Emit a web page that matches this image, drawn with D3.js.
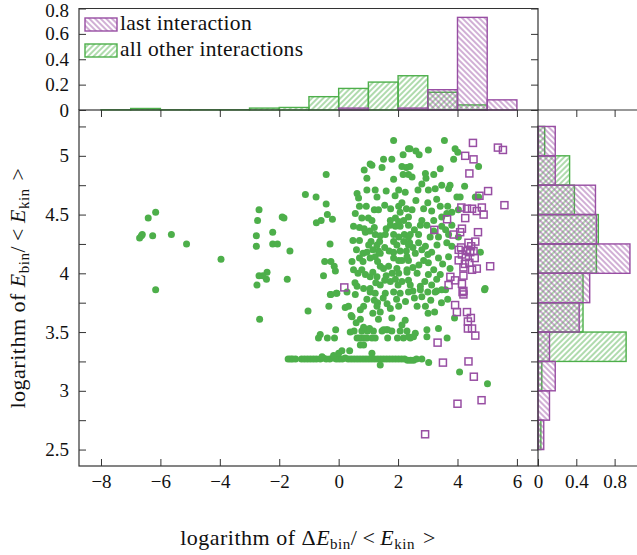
<!DOCTYPE html>
<html>
<head>
<meta charset="utf-8">
<script src="https://cdn.jsdelivr.net/npm/d3@7"></script>
<style>
  body { margin: 0; background: #fff; }
  svg text { font-family: "Liberation Serif", "Times New Roman", Tinos, "DejaVu Serif", serif; }
</style>
</head>
<body>
<svg id="chart" width="637" height="555"></svg>
<script>
// -------- data --------
// top histogram: bins of width 1 on log(dE_bin/<E_kin>)
const topBinStart = [-8, -7, -6, -5, -4, -3, -2, -1, 0, 1, 2, 3, 4, 5];
const topLast = [0, 0, 0, 0, 0, 0, 0, 0, 0.015, 0, 0.015, 0.16, 0.73, 0.08];
const topOther = [0.002, 0.012, 0.002, 0.002, 0.002, 0.015, 0.02, 0.105, 0.17, 0.22, 0.27, 0.14, 0.04, 0];

// right histogram: bins of width 0.25 on log(E_bin/<E_kin>)
const rightBinStart = [2.5, 2.75, 3, 3.25, 3.5, 3.75, 4, 4.25, 4.5, 4.75, 5];
const rightLast = [0.06, 0.12, 0.18, 0.12, 0.43, 0.54, 0.96, 0.61, 0.6, 0.18, 0.18];
const rightOther = [0.03, 0, 0.04, 0.92, 0.47, 0.47, 0.61, 0.63, 0.38, 0.33, 0.07];

// ticks
const xTicks = [-8, -6, -4, -2, 0, 2, 4, 6];
const yTicks = [2.5, 2.75, 3, 3.25, 3.5, 3.75, 4, 4.25, 4.5, 4.75, 5, 5.25];
const topTicks = [0, 0.2, 0.4, 0.6, 0.8];
const rightTicks = [0, 0.4, 0.8];

// scatter, "all other interactions" [x, y]
const otherFar = [[-6.16,4.52],[-6.41,4.47],[-6.61,4.33],[-6.64,4.32],[-6.70,4.30],[-6.26,4.32],[-5.63,4.33],
  [-5.12,4.25],[-3.96,4.12],[-6.16,3.86]];
const otherLeft = [[-2.68,4.54],[-2.73,4.45],[-1.90,4.48],[-1.84,4.47],[-2.22,4.35],[-2.77,4.32],[-2.77,4.23],
  [-2.22,4.25],[-2.06,4.25],[-1.64,4.19],[-2.68,3.98],[-2.41,4.01],[-2.43,3.95],[-2.55,3.98],[-2.75,3.90],
  [-1.73,3.95],[-2.66,3.61],[-1.03,3.68],[-1.12,4.67],[-0.76,4.65]];
const otherZero = [[-0.42,4.84],[-0.42,4.59],[-0.38,4.50],[-0.21,4.46],[-0.75,4.43],[-0.59,4.45],[-0.29,4.25],
  [-0.47,4.10],[-0.26,4.10],[-0.15,4.06],[-0.11,4.02],[-0.51,3.98],[-0.26,3.82],[-0.06,3.83],[-0.33,3.72],
  [-0.10,3.52],[-0.62,3.48],[-0.68,3.45],[-0.38,3.45],[-0.14,3.45]];
const otherRow = [[-1.70,3.27],[-1.62,3.27],[-1.55,3.27],[-1.45,3.27],[-1.25,3.27],[-1.15,3.27],[-1.05,3.27],
  [-0.95,3.27],[-0.85,3.27],[-0.75,3.27],[-0.62,3.27],[-0.52,3.28],[-0.42,3.27],[-0.30,3.27],[-0.18,3.28],
  [-0.08,3.27],[0.02,3.27],[0.12,3.27],[0.22,3.28],[0.32,3.27],[0.42,3.27],[0.52,3.27],[0.62,3.27],[0.72,3.27],
  [0.82,3.27],[0.92,3.27],[1.02,3.27],[1.12,3.27],[1.22,3.27],[1.32,3.27],[1.42,3.27],[1.52,3.27],[1.62,3.27],
  [1.72,3.27],[1.82,3.27],[1.92,3.27],[2.02,3.27],[2.12,3.27],[2.22,3.27],[2.32,3.26],[2.42,3.26],[2.52,3.26],
  [2.62,3.27],[2.80,3.27],[3.03,3.24],[0.11,3.34],[0.00,3.32],[-0.17,3.30],[-0.56,3.29],[0.37,3.34],
  [1.12,3.32],[1.40,3.22],[0.73,3.39],[0.84,3.39],[4.07,3.16],[5.01,3.06]];
const otherLow = [[0.62,3.45],[0.70,3.45],[0.78,3.45],[0.87,3.45],[0.95,3.45],[1.12,3.45],[1.23,3.45],
  [1.65,3.45],[1.98,3.45],[2.18,3.45],[2.41,3.45],[2.35,3.46],[2.52,3.46],[2.97,3.46],[0.39,3.50],[0.52,3.51],
  [0.78,3.51],[0.97,3.51],[1.17,3.51],[1.46,3.51],[1.60,3.52],[1.79,3.51],[2.07,3.51],[2.30,3.51],[0.84,3.54],
  [1.04,3.53],[1.51,3.52],[1.65,3.52],[2.58,3.49],[2.97,3.52],[3.36,3.53],[3.65,3.45],[0.45,3.63],[0.22,3.71],
  [0.33,3.72],[0.42,3.64],[0.73,3.69],[0.84,3.72],[1.15,3.66],[1.31,3.75],[1.29,3.72],[1.40,3.67],[1.63,3.74],
  [1.74,3.70],[2.02,3.72],[1.34,3.61],[1.79,3.62],[0.73,3.61],[0.59,3.58],[2.13,3.56],[2.24,3.60],[3.46,3.75],
  [3.67,3.78],[3.23,3.67],[3.01,3.66],[2.64,3.72],[2.92,3.72],[3.90,3.62]];
const otherMid = [[-0.28,3.82],[-0.08,3.83],[0.28,3.84],[0.56,3.82],[1.06,3.84],[1.23,3.83],[1.57,3.83],
  [1.85,3.84],[2.07,3.83],[2.35,3.84],[4.91,3.86],[2.50,3.85],[2.75,3.86],[3.00,3.84],[3.30,3.85],[3.60,3.86],
  [0.62,3.89],[0.84,3.87],[1.06,3.87],[1.40,3.90],[1.74,3.93],[1.91,3.95],[2.13,3.93],[2.35,3.94],[2.41,3.90],
  [2.75,3.89],[3.13,3.90],[3.47,3.86],[3.25,3.84],[4.93,3.87],[0.90,3.99],[1.06,3.97],[1.29,3.97],[2.30,4.01],
  [2.64,4.00],[3.02,3.99],[3.42,3.99],[0.45,4.10],[0.50,4.03],[0.82,4.10],[0.78,4.03],[1.40,4.06],[1.51,4.04],
  [1.68,4.06],[1.96,4.04],[2.02,4.00],[2.30,4.03],[3.75,4.04],[2.35,4.11],[2.86,4.11],[3.02,4.09],[0.82,4.17],
  [0.70,4.13],[1.06,4.13],[1.23,4.14],[1.31,4.10],[1.85,4.13],[2.02,4.11],[2.13,4.11],[2.30,4.14]];
const otherHigh = [[1.34,4.19],[1.40,4.17],[1.85,4.18],[2.07,4.19],[2.28,4.19],[2.58,4.17],[3.13,4.18],
  [3.36,4.13],[3.70,4.14],[4.77,4.18],[0.48,4.28],[0.70,4.28],[1.09,4.27],[1.38,4.27],[1.29,4.24],[1.85,4.27],
  [1.96,4.24],[2.19,4.27],[2.39,4.26],[1.01,4.24],[2.35,4.24],[2.69,4.26],[2.92,4.23],[3.31,4.24],[3.64,4.26],
  [3.81,4.23],[0.90,4.35],[1.23,4.33],[1.40,4.32],[1.57,4.33],[1.85,4.33],[2.02,4.31],[2.21,4.33],[2.35,4.31],
  [2.41,4.33],[2.69,4.33],[3.08,4.31],[3.36,4.31],[3.70,4.33],[4.03,4.31],[0.70,4.39],[0.86,4.38],[1.20,4.39],
  [1.74,4.41],[1.91,4.40],[2.07,4.40],[2.35,4.41],[2.75,4.41],[2.97,4.41],[3.47,4.40],[3.81,4.41],[0.56,4.51],
  [0.78,4.47],[1.00,4.47],[1.12,4.45],[1.74,4.45],[1.91,4.47],[2.02,4.44],[2.19,4.45],[2.35,4.48],[0.93,4.57],
  [1.20,4.54],[1.34,4.54],[2.02,4.57],[2.07,4.52],[2.13,4.60],[2.80,4.45],[3.20,4.45],[3.47,4.48],[3.64,4.51],
  [3.81,4.52],[4.03,4.54],[2.28,4.55],[2.47,4.54],[2.86,4.55],[3.13,4.53],[3.42,4.57],[3.67,4.57]];
const otherTop = [[0.95,4.71],[1.23,4.71],[2.02,4.71],[2.24,4.69],[0.62,4.68],[0.67,4.64],[1.29,4.65],
  [3.98,4.65],[4.09,4.65],[4.60,4.65],[4.71,4.65],[2.67,4.71],[3.02,4.71],[3.47,4.75],[3.75,4.75],[3.70,4.72],
  [4.24,4.74],[1.85,4.80],[0.95,4.81],[2.47,4.82],[2.94,4.81],[1.06,4.93],[1.12,4.92],[0.86,4.88],[1.46,4.90],
  [2.13,4.91],[2.28,4.90],[2.35,4.84],[2.17,4.84],[1.79,4.97],[1.51,4.97],[2.17,5.01],[2.35,5.06],[1.85,5.13],
  [3.56,5.13],[2.40,5.06],[2.60,5.04],[2.71,5.01],[3.02,5.05],[3.92,5.06],[4.01,5.03],[3.87,4.97],[4.71,4.91],
  [2.40,4.91],[3.42,4.89],[3.20,4.84],[2.92,4.85]];
// overlapping points inside the dense core
const otherCore = [[0.60,4.20],[0.95,4.18],[1.15,4.20],[1.55,4.22],[1.70,4.19],[2.50,4.22],[2.80,4.20],
  [3.00,4.16],[0.65,4.00],[1.15,4.01],[1.60,3.98],[1.80,4.00],[2.50,4.05],[2.70,4.07],[3.20,4.03],[3.50,4.08],
  [0.55,3.92],[1.25,3.92],[1.55,3.94],[2.00,3.90],[2.90,3.93],[3.30,3.95],[0.95,3.78],[1.20,3.77],[1.50,3.79],
  [1.95,3.78],[2.25,3.76],[2.55,3.79],[2.80,3.80],[3.10,3.77],[0.50,4.40],[1.05,4.36],[1.60,4.38],[2.55,4.37],
  [3.20,4.36],[3.60,4.37],[0.70,4.57],[1.55,4.58],[1.75,4.55],[2.60,4.62],[3.00,4.60],[3.30,4.63],[1.60,4.70],
  [1.90,4.66],[2.80,4.76],[3.25,4.72]];

// scatter, "last interaction" [x, y]
const lastPts = [[4.52,5.11],[5.36,5.07],[5.53,5.05],[4.26,5.00],[4.54,4.97],[5.03,4.70],[4.74,4.66],[5.58,4.58],
  [4.13,4.56],[4.32,4.55],[4.49,4.55],[4.82,4.56],[4.65,4.53],[4.88,4.50],[4.26,4.47],[3.65,4.46],[3.22,4.37],
  [4.15,4.38],[4.09,4.35],[3.87,4.33],[4.69,4.35],[4.60,4.27],[4.37,4.26],[4.04,4.20],[4.32,4.19],[4.54,4.19],
  [4.43,4.18],[4.04,4.11],[4.20,4.05],[4.49,4.03],[4.65,4.04],[5.10,4.06],[4.20,3.98],[3.76,3.97],[3.92,3.94],
  [3.70,3.90],[4.15,3.91],[4.20,3.85],[4.17,3.84],[4.20,3.82],[3.92,3.73],[3.98,3.67],[4.32,3.67],[4.35,3.59],
  [4.35,3.53],[4.49,3.53],[4.60,3.47],[3.33,3.41],[3.51,3.24],[4.37,3.25],[4.00,2.89],[4.81,2.92],[2.91,2.63],
  [0.19,3.88],[4.12,4.22],[4.28,4.14],[4.40,4.09],[4.58,4.13],[4.15,4.16],[4.46,4.23],[4.25,4.08],[4.40,4.85],
  [4.45,3.62],[4.55,3.12]];

const otherPts = [].concat(otherFar, otherLeft, otherZero, otherRow, otherLow, otherMid, otherCore, otherHigh, otherTop);

// -------- setup --------
const svg = d3.select("#chart");
const green = "#4daf4a",
  purple = "#984ea3",
  axisCol = "#333",
  serif = '"Liberation Serif", "Times New Roman", Tinos, "DejaVu Serif", serif';

// main panel and the two marginal panels share edges
const x = d3.scaleLinear().domain([-8.74, 6.71]).range([79, 538]);
const y = d3.scaleLinear().domain([2.36, 5.39]).range([466, 110]);
const yTop = d3.scaleLinear().domain([0, 0.8]).range([110, 8.5]);
const xRight = d3.scaleLinear().domain([0, 1.065]).range([538, 640]);

// hatch patterns
const defs = svg.append("defs");
function hatch(id, color, angle) {
  defs.append("pattern")
    .attr("id", id)
    .attr("patternUnits", "userSpaceOnUse")
    .attr("width", 4)
    .attr("height", 4)
    .attr("patternTransform", "rotate(" + angle + ")")
    .append("line")
    .attr("x1", 2).attr("y1", 0).attr("x2", 2).attr("y2", 4)
    .attr("stroke", color)
    .attr("stroke-width", 0.9);
}
hatch("hatchLast", purple, -45);
hatch("hatchOther", green, 45);

// -------- top histogram --------
function topBars(vals, pat, col) {
  svg.append("g")
    .selectAll("rect")
    .data(topBinStart.map((s, i) => [s, vals[i]]).filter(d => d[1] > 0))
    .join("rect")
    .attr("x", d => x(d[0]))
    .attr("width", d => x(d[0] + 1) - x(d[0]))
    .attr("y", d => yTop(d[1]))
    .attr("height", d => yTop(0) - yTop(d[1]))
    .attr("fill", "url(#" + pat + ")")
    .attr("stroke", col)
    .attr("stroke-width", 1.4);
}
topBars(topOther, "hatchOther", green);
topBars(topLast, "hatchLast", purple);

// -------- right histogram --------
function rightBars(vals, pat, col) {
  svg.append("g")
    .selectAll("rect")
    .data(rightBinStart.map((s, i) => [s, vals[i]]).filter(d => d[1] > 0))
    .join("rect")
    .attr("x", xRight(0))
    .attr("width", d => xRight(d[1]) - xRight(0))
    .attr("y", d => y(d[0] + 0.25))
    .attr("height", d => y(d[0]) - y(d[0] + 0.25))
    .attr("fill", "url(#" + pat + ")")
    .attr("stroke", col)
    .attr("stroke-width", 1.4);
}
rightBars(rightOther, "hatchOther", green);
rightBars(rightLast, "hatchLast", purple);

// -------- scatter --------
svg.append("g")
  .selectAll("circle")
  .data(otherPts)
  .join("circle")
  .attr("cx", d => x(d[0]))
  .attr("cy", d => y(d[1]))
  .attr("r", 3.5)
  .attr("fill", green);

const sq = 7;
svg.append("g")
  .selectAll("rect")
  .data(lastPts)
  .join("rect")
  .attr("x", d => x(d[0]) - sq / 2)
  .attr("y", d => y(d[1]) - sq / 2)
  .attr("width", sq)
  .attr("height", sq)
  .attr("fill", "none")
  .attr("stroke", purple)
  .attr("stroke-width", 1.5);

// -------- axes (inward ticks, mirrored) --------
const fmt = d3.format("");
function addAxis(axis, tx, ty, labels) {
  const g = svg.append("g")
    .attr("transform", "translate(" + tx + "," + ty + ")")
    .call(axis.tickSize(-7).tickSizeOuter(0));
  g.attr("font-family", serif).attr("font-size", 19);
  g.select(".domain").remove();
  g.selectAll(".tick line").attr("stroke", axisCol).attr("stroke-width", 1);
  g.selectAll("text").attr("fill", "#111");
  if (!labels) g.selectAll("text").remove();
  return g;
}
addAxis(d3.axisBottom(x).tickValues(xTicks).tickFormat(fmt).tickPadding(9), 0, 466, true);
addAxis(d3.axisTop(x).tickValues(xTicks), 0, 110, false);
addAxis(d3.axisLeft(y).tickValues(yTicks).tickPadding(10)
  .tickFormat(d => (d * 2) % 1 === 0 ? fmt(d) : ""), 79, 0, true);
addAxis(d3.axisRight(y).tickValues(yTicks), 538, 0, false);
const topAxis = addAxis(d3.axisLeft(yTop).tickValues(topTicks).tickFormat(fmt).tickPadding(10), 79, 0, true);
// keep the top label inside the picture
topAxis.selectAll("text").filter(d => d === 0.8).attr("dy", "0.42em");
addAxis(d3.axisRight(yTop).tickValues(topTicks), 538, 0, false);
addAxis(d3.axisBottom(xRight).tickValues(rightTicks).tickFormat(fmt).tickPadding(9), 0, 466, true);
addAxis(d3.axisTop(xRight).tickValues(rightTicks.slice(1)), 0, 110, false);

// frames
const frame = svg.append("g").attr("fill", "none").attr("stroke", axisCol).attr("stroke-width", 1.2);
frame.append("rect").attr("x", 79).attr("y", 110).attr("width", 538 - 79).attr("height", 466 - 110);
frame.append("path").attr("d", "M79,110V8.5H538V110");
frame.append("path").attr("d", "M538,110H637M538,466H637");

// -------- legend --------
const legendItems = [
  { label: "last interaction", pat: "hatchLast", col: purple, y: 18 },
  { label: "all other interactions", pat: "hatchOther", col: green, y: 44 }
];
const legend = svg.append("g").attr("font-family", serif);
legend.selectAll("rect")
  .data(legendItems)
  .join("rect")
  .attr("x", 85).attr("y", d => d.y)
  .attr("width", 32).attr("height", 13)
  .attr("fill", d => "url(#" + d.pat + ")")
  .attr("stroke", d => d.col)
  .attr("stroke-width", 1.4);
legend.selectAll("text")
  .data(legendItems)
  .join("text")
  .attr("x", 120).attr("y", d => d.y + 12)
  .attr("font-size", 21.5)
  .attr("letter-spacing", 0.3)
  .attr("fill", "#111")
  .text(d => d.label);

// -------- axis titles --------
function title(t, delta) {
  t.attr("font-size", 22).attr("letter-spacing", 0.5).attr("fill", "#111").attr("font-family", serif);
  t.append("tspan").text("logarithm of " + (delta ? "\u0394" : ""));
  t.append("tspan").attr("font-style", "italic").text("E");
  t.append("tspan").attr("font-size", 15).attr("dy", 4).text("bin");
  t.append("tspan").attr("dy", -4).text("/");
  t.append("tspan").attr("dx", 5).text("<");
  t.append("tspan").attr("dx", 5).attr("font-style", "italic").text("E");
  t.append("tspan").attr("font-size", 15).attr("dy", 4).text("kin");
  t.append("tspan").attr("dy", -4).attr("dx", 8).text(">");
}
title(svg.append("text").attr("x", 308).attr("y", 545).attr("text-anchor", "middle"), true);
title(svg.append("text").attr("transform", "translate(25,288) rotate(-90)").attr("text-anchor", "middle"), false);
</script>
</body>
</html>
